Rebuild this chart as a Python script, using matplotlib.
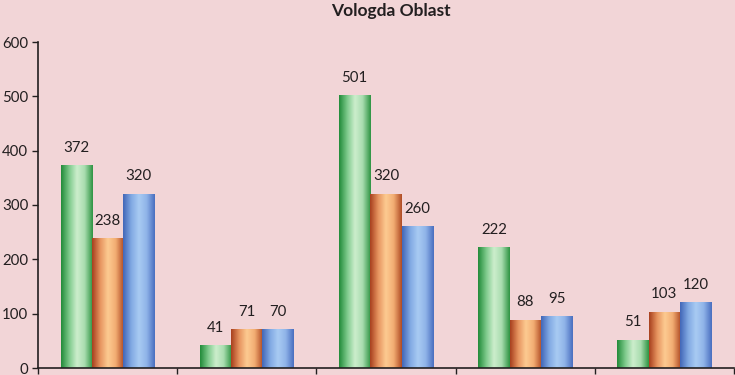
import numpy as np
import matplotlib
matplotlib.use("Agg")
from matplotlib import pyplot as plt
from matplotlib.colors import LinearSegmentedColormap

# values, 5 groups x 3 series
groups = ["1", "2", "3", "4", "5"]
series_a = [372, 41, 501, 222, 51]
series_b = [238, 71, 320, 88, 103]
series_c = [320, 70, 260, 95, 120]
yticks = [0, 100, 200, 300, 400, 500, 600]

bg = "#f2d5d7"
ink = "#231f20"

# edge / centre colours for the cylinder-like gradient
grads = [
    ["#228b3a", "#7cc98a", "#cdeecd", "#a8dcae", "#2f9443"],
    ["#a8401f", "#e6935e", "#fdcb92", "#f2ac72", "#b04c25"],
    ["#4267b8", "#80a8e2", "#a9cbf3", "#8fb3e8", "#4a6fc0"],
]

plt.rcParams['font.family'] = ['Lato', 'DejaVu Sans']

fig = plt.figure(figsize=(7.35, 3.75), dpi=100, facecolor=bg)
ax = fig.add_axes([38/735, 7/375, 696/735, 326/375])
ax.set_facecolor(bg)

x = np.arange(len(groups))
w = 0.225
data = [series_a, series_b, series_c]
grad = np.linspace(0, 1, 64).reshape(1, -1)

for k, vals in enumerate(data):
    bars = ax.bar(x + (k - 1) * w, vals, w, color="none", edgecolor="none", zorder=2)
    cmap = LinearSegmentedColormap.from_list("g%d" % k, grads[k])
    for b, v in zip(bars, vals):
        x0 = b.get_x()
        ax.imshow(grad, cmap=cmap, aspect="auto", zorder=2,
                  extent=[x0, x0 + b.get_width(), 0, v], interpolation="bicubic")
        ax.text(x0 + b.get_width() / 2, v + 20, str(v), ha="center", va="bottom",
                fontsize=10.8, color=ink)

ax.set_xlim(-0.5, len(groups) - 0.5)
ax.set_ylim(0, 600)
ax.set_yticks(yticks)
ax.set_yticklabels([str(t) for t in yticks], fontsize=10.8, color=ink)
ax.set_xticks(np.arange(len(groups) + 1) - 0.5)
ax.set_xticklabels([])
ax.tick_params(axis="both", direction="out", length=4, width=1, color=ink)
ax.tick_params(axis="y", pad=3)

for s in ["top", "right"]:
    ax.spines[s].set_visible(False)
for s in ["left", "bottom"]:
    ax.spines[s].set_color(ink)
    ax.spines[s].set_linewidth(1.2)

fig.text(391/735, 1 - 11/375, "Vologda Oblast", ha="center", va="center",
         fontsize=12.5, fontweight="bold", color=ink)

fig.savefig("out.png", dpi=100, facecolor=bg)
